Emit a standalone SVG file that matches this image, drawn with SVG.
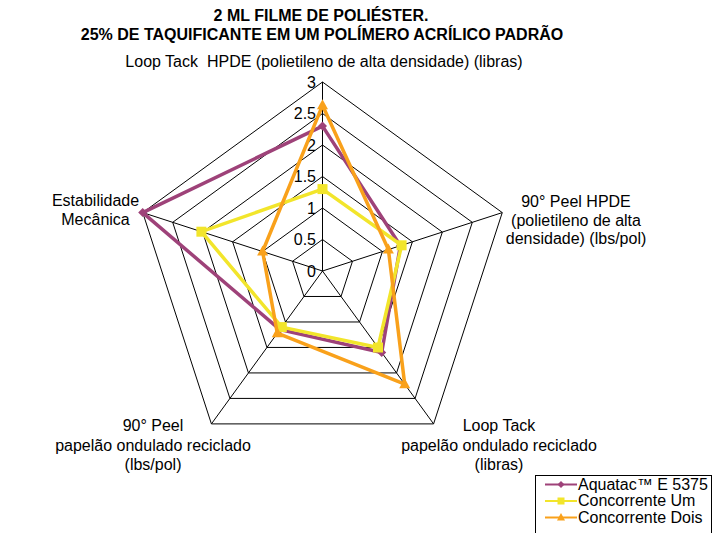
<svg xmlns="http://www.w3.org/2000/svg" width="712" height="533" viewBox="0 0 712 533">
<style>
text{font-family:"Liberation Sans",Arial,sans-serif;fill:#000}
.title{font-size:16px;font-weight:bold;text-anchor:middle}
.lbl{font-size:16px;text-anchor:middle}
.tick{font-size:16px;text-anchor:end}
.leg{font-size:16px}
.grid{fill:none;stroke:#000;stroke-width:1}
.s1{fill:none;stroke:#9E4279;stroke-width:3.5;stroke-linejoin:round}
.s2{fill:none;stroke:#F2E52B;stroke-width:3.5;stroke-linejoin:round}
.s3{fill:none;stroke:#F9A11B;stroke-width:3.5;stroke-linejoin:round}
</style>
<defs>
<path id="dia" d="M0,-4.5 L4.5,0 L0,4.5 L-4.5,0Z" fill="#9E4279"/>
<rect id="sq" x="-5" y="-5" width="10" height="10" fill="#F2E52B"/>
<path id="tri" d="M0,-6 L5.5,4 L-5.5,4Z" fill="#F9A11B"/>
</defs>
<rect width="712" height="533" fill="#fff"/>
<g id="title">
<text class="title" x="321" y="20.5">2 ML FILME DE POLIÉSTER.</text>
<text class="title" x="322" y="39.5">25% DE TAQUIFICANTE EM UM POLÍMERO ACRÍLICO PADRÃO</text>
</g>
<g id="grid">
<polygon class="grid" points="322.5,239.5 352.46,261.27 341.02,296.48 303.98,296.48 292.54,261.27"/>
<polygon class="grid" points="322.5,208 382.42,251.53 359.53,321.97 285.47,321.97 262.58,251.53"/>
<polygon class="grid" points="322.5,176.5 412.38,241.8 378.05,347.45 266.95,347.45 232.62,241.8"/>
<polygon class="grid" points="322.5,145 442.34,232.07 396.56,372.93 248.44,372.93 202.66,232.07"/>
<polygon class="grid" points="322.5,113.5 472.3,222.33 415.08,398.42 229.92,398.42 172.7,222.33"/>
<polygon class="grid" points="322.5,82 502.26,212.6 433.59,423.9 211.41,423.9 142.74,212.6"/>
<path class="grid" d="M322.5,271 L322.5,82 M322.5,271 L502.26,212.6 M322.5,271 L433.59,423.9 M322.5,271 L211.41,423.9 M322.5,271 L142.74,212.6"/>
</g>
<g id="ticks">
<text class="tick" x="316" y="87.5">3</text>
<text class="tick" x="316" y="119">2.5</text>
<text class="tick" x="316" y="150.5">2</text>
<text class="tick" x="316" y="182">1.5</text>
<text class="tick" x="316" y="213.5">1</text>
<text class="tick" x="316" y="245">0.5</text>
<text class="tick" x="316" y="276.5">0</text>
</g>
<g id="axis-top"><text class="lbl" x="324" y="67" xml:space="preserve">Loop Tack  HPDE (polietileno de alta densidade) (libras)</text></g>
<g id="axis-right"><text class="lbl" x="576" y="207">90° Peel HPDE</text><text class="lbl" x="576" y="225.5">(polietileno de alta</text><text class="lbl" x="576" y="244">densidade) (lbs/pol)</text></g>
<g id="axis-bottom-right"><text class="lbl" x="499" y="431">Loop Tack</text><text class="lbl" x="499" y="450.5">papelão ondulado reciclado</text><text class="lbl" x="499" y="470">(libras)</text></g>
<g id="axis-bottom-left"><text class="lbl" x="153" y="431">90° Peel</text><text class="lbl" x="153" y="450.5">papelão ondulado reciclado</text><text class="lbl" x="153" y="470">(lbs/pol)</text></g>
<g id="axis-left"><text class="lbl" x="95.5" y="206">Estabilidade</text><text class="lbl" x="95.5" y="225">Mecânica</text></g>
<g id="series">
<g id="aquatac">
<polygon class="s1" points="322.5,126.1 400.4,245.7 381.7,352.5 279.9,329.6 142.7,212.6"/>
<use href="#dia" x="322.5" y="126.1"/><use href="#dia" x="400.4" y="245.7"/><use href="#dia" x="381.7" y="352.5"/><use href="#dia" x="279.9" y="329.6"/><use href="#dia" x="142.7" y="212.6"/>
</g>
<g id="concorrente-um">
<polygon class="s2" points="322.5,189.1 401.6,245.3 378,347.5 281.8,327.1 201.4,231.7"/>
<use href="#sq" x="322.5" y="189.1"/><use href="#sq" x="401.6" y="245.3"/><use href="#sq" x="378" y="347.5"/><use href="#sq" x="281.8" y="327.1"/><use href="#sq" x="201.4" y="231.7"/>
</g>
<g id="concorrente-dois">
<polygon class="s3" points="322.5,105.3 388.4,249.6 404.7,384.2 277.3,333.2 262.6,251.5"/>
<use href="#tri" x="322.5" y="105.3"/><use href="#tri" x="388.4" y="249.6"/><use href="#tri" x="404.7" y="384.2"/><use href="#tri" x="277.3" y="333.2"/><use href="#tri" x="262.6" y="251.5"/>
</g>
</g>
<g id="legend">
<rect x="535.5" y="475.5" width="176" height="60" fill="#fff" stroke="#000" stroke-width="1"/>
<line x1="545" y1="484.5" x2="577" y2="484.5" stroke="#9E4279" stroke-width="2"/>
<path d="M561,481 L564.5,484.5 L561,488 L557.5,484.5Z" fill="#9E4279"/>
<text class="leg" x="578" y="489.5">Aquatac™ E 5375</text>
<line x1="545" y1="501" x2="577" y2="501" stroke="#F2E52B" stroke-width="2"/>
<rect x="557.5" y="497.5" width="7" height="7" fill="#F2E52B"/>
<text class="leg" x="578" y="506">Concorrente Um</text>
<line x1="545" y1="517.5" x2="577" y2="517.5" stroke="#F9A11B" stroke-width="2"/>
<path d="M561,513 L565,520.5 L557,520.5Z" fill="#F9A11B"/>
<text class="leg" x="578" y="522.5">Concorrente Dois</text>
</g>
</svg>
